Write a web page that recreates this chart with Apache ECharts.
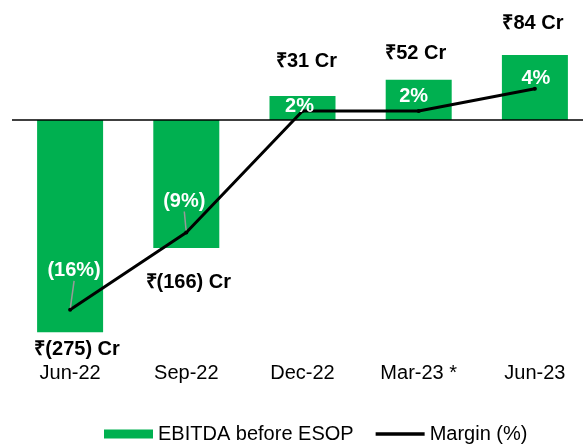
<!DOCTYPE html>
<html>
<head>
<meta charset="utf-8">
<script src="https://cdn.jsdelivr.net/npm/echarts@6/dist/echarts.min.js"></script>
<style>html,body{margin:0;padding:0;background:#fff;overflow:hidden}#c{width:600px;height:444px}</style>
</head>
<body>
<div id="c"></div>
<script>
const categories = ['Jun-22', 'Sep-22', 'Dec-22', 'Mar-23 *', 'Jun-23'];
const ebitda = [-275, -166, 31, 52, 84];
const margin = [-16, -9, 2, 2, 4];

// label placement (styling only)
const barLabelDist = [7, 24, 25, 16, 22];
const barLabelDx = [7, 2, 4, -3, -2];
const marginLabelDy = [-27, -19, 8, -2, 2];
const marginLabelDx = [4, -2, -3, -5, 1];
const marginLeader = [true, true, false, false, false];

const FONT = '"Liberation Sans", Arial, Helvetica, sans-serif';
const GREEN = '#00B050';

const fmtCr = v => v < 0 ? '₹(' + (-v) + ') Cr' : '₹' + v + ' Cr';
const fmtPct = v => v < 0 ? '(' + (-v) + '%)' : v + '%';

const chart = echarts.init(document.getElementById('c'), null, {renderer: 'canvas'});
chart.setOption({
  animation: false,
  textStyle: {fontFamily: FONT},
  grid: {left: 12, width: 581, top: 0, height: 360},
  legend: {
    left: 99, top: 419,
    itemWidth: 49, itemHeight: 9, itemGap: 22,
    textStyle: {fontFamily: FONT, fontSize: 20, color: '#000'},
    data: [
      {name: 'EBITDA before ESOP', icon: 'rect'},
      {name: 'Margin (%)', icon: 'path://M0,0H50V3.6H0Z'}
    ]
  },
  xAxis: {
    type: 'category',
    data: categories,
    position: 'bottom',
    axisLine: {show: false, onZero: false},
    axisTick: {show: false},
    axisLabel: {fontFamily: FONT, fontSize: 20, color: '#000', margin: 3}
  },
  yAxis: [
    {type: 'value', min: -311, max: 155.4, show: false},
    {type: 'value', min: -20.54, max: 12.04, show: false}
  ],
  series: [
    {
      name: 'EBITDA before ESOP',
      type: 'bar',
      barWidth: 66,
      itemStyle: {color: GREEN},
      data: ebitda.map((v, i) => ({
        value: v,
        label: {
          show: true,
          position: v < 0 ? 'bottom' : 'top',
          distance: barLabelDist[i],
          offset: [barLabelDx[i], 0],
          formatter: fmtCr(v),
          fontFamily: FONT, fontSize: 20, fontWeight: 'bold', color: '#000'
        }
      })),
      markLine: {
        silent: true,
        symbol: 'none',
        label: {show: false},
        lineStyle: {color: '#000', width: 1.5, type: 'solid'},
        data: [{yAxis: 0}]
      },
      z: 2
    },
    {
      name: 'Margin (%)',
      type: 'line',
      yAxisIndex: 1,
      data: margin.map((v, i) => ({
        value: v,
        labelLine: {show: marginLeader[i]}
      })),
      symbol: 'circle',
      symbolSize: 4,
      itemStyle: {color: '#000'},
      lineStyle: {color: '#000', width: 3},
      label: {
        show: true,
        position: 'top',
        distance: 0,
        formatter: p => fmtPct(p.value),
        fontFamily: FONT, fontSize: 20, fontWeight: 'bold', color: '#fff'
      },
      labelLayout: p => ({dx: marginLabelDx[p.dataIndex], dy: marginLabelDy[p.dataIndex]}),
      labelLine: {show: true, showAbove: false, length2: 0, lineStyle: {color: '#999', width: 1.5}},
      z: 3
    }
  ]
});
</script>
</body>
</html>
